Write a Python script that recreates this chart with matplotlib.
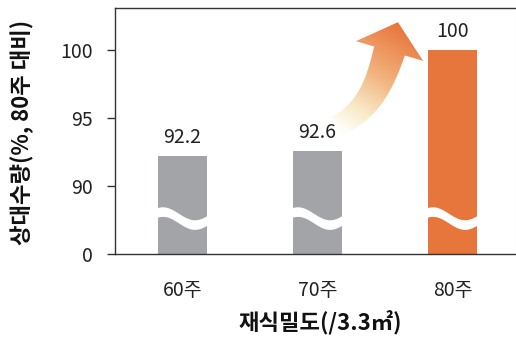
import numpy as np
import matplotlib
matplotlib.use("Agg")
import matplotlib.pyplot as plt
from matplotlib.path import Path
from matplotlib.patches import PathPatch, Polygon
from matplotlib.colors import LinearSegmentedColormap
from matplotlib.transforms import blended_transform_factory

# --- data -------------------------------------------------------------
categories = ["60주", "70주", "80주"]
relative_yield = [92.2, 92.6, 100]
bar_colors = ["#a3a4a7", "#a3a4a7", "#e6763c"]
y_ticks = [0, 90, 95, 100]
y_tick_labels = ["0", "90", "95", "100"]
x_title = "재식밀도(/3.3㎡)"
y_title = "상대수량(%, 80주 대비)"

plt.rcParams['font.family'] = ['Noto Sans CJK KR', 'DejaVu Sans']
TEXT = "#222222"

W, H = 516, 345
fig = plt.figure(figsize=(W / 100, H / 100), dpi=100)
ax = fig.add_axes([115 / W, (H - 254) / H, (W - 115) / W, 246 / H])


# broken axis: 0-90 squeezed into one tick step, 90-100 in 5-unit steps
def fwd(v):
    v = np.asarray(v, dtype=float)
    return np.where(v < 90, v / 90.0, 1.0 + (v - 90.0) / 5.0)


def inv(d):
    d = np.asarray(d, dtype=float)
    return np.where(d < 1, d * 90.0, 90.0 + (d - 1.0) * 5.0)


ax.set_yscale('function', functions=(fwd, inv))

x = np.arange(len(categories))
bar_w = 0.36
ax.bar(x, relative_yield, width=bar_w, color=bar_colors, zorder=2)

ax.set_xlim(-0.5, 2.47)
ax.set_ylim(0, 103.1)
ax.set_yticks(y_ticks, y_tick_labels)
ax.yaxis.set_minor_locator(matplotlib.ticker.NullLocator())
ax.set_xticks(x, categories)

ax.tick_params(axis='y', length=5.8, width=1.0, pad=10, labelsize=14,
               colors=TEXT, color="#333333")
ax.tick_params(axis='x', length=0, pad=19, labelsize=14, colors=TEXT)

for side in ("left", "bottom", "top"):
    ax.spines[side].set_color("#333333")
    ax.spines[side].set_linewidth(1.0)
ax.spines["right"].set_color("#e4e4e4")

# value labels above bars
for xi, v in zip(x, relative_yield):
    ax.annotate(f"{v:g}", (xi, v), xytext=(0, 9.4), textcoords="offset points",
                ha="center", va="baseline", fontsize=14, color=TEXT)

# white wavy break marks across the bars
blend = blended_transform_factory(ax.transData, ax.transAxes)
t = np.linspace(0, 1, 60)
sy_ax = 246.0
centre = 0.146 + (6.5 * np.cos(2 * np.pi * 0.8 * (t - 0.12)) - 0.5) / sy_ax
half = 4.8 / sy_ax
for xi in x:
    xs = xi - bar_w / 2 - 0.01 + t * (bar_w + 0.02)
    pts = np.vstack([np.column_stack([xs, centre + half]),
                     np.column_stack([xs[::-1], (centre - half)[::-1]])])
    ax.add_patch(Polygon(pts, closed=True, transform=blend, facecolor="white",
                         edgecolor="none", zorder=3))

# curved gradient arrow drawn on an overlay in local pixel units
pos = ax.get_position()
sx, sy = pos.width * W, pos.height * H
ov = fig.add_axes(pos, frameon=False)
ov.set_axis_off()
ov.set_xlim(0, sx)
ov.set_ylim(0, sy)

P0 = np.array([222.0, 128.0])
P3 = np.array([274.5, 203.0])
start_dir = np.array([0.9, 0.44])
start_dir /= np.linalg.norm(start_dir)
head_dir = np.array([8.5, 29.0])
head_dir /= np.linalg.norm(head_dir)
C1 = P0 + 35 * start_dir
C2 = P3 - 35 * head_dir
tt = np.linspace(0, 1, 100)[:, None]
B = ((1 - tt) ** 3 * P0 + 3 * (1 - tt) ** 2 * tt * C1
     + 3 * (1 - tt) * tt ** 2 * C2 + tt ** 3 * P3)
dB = (3 * (1 - tt) ** 2 * (C1 - P0) + 6 * (1 - tt) * tt * (C2 - C1)
      + 3 * tt ** 2 * (P3 - C2))
nrm = np.column_stack([-dB[:, 1], dB[:, 0]])
nrm /= np.linalg.norm(nrm, axis=1)[:, None]
hw = 10.5 + 5.5 * tt
left = B + nrm * hw
right = B - nrm * hw
perp = np.array([-head_dir[1], head_dir[0]])
tip = P3 + 30 * head_dir
head = np.array([P3 + perp * 35, tip, P3 - perp * 35])
poly = np.vstack([left, head, right[::-1]])
path = Path(np.vstack([poly, poly[:1]]), closed=True)
patch = PathPatch(path, facecolor="none", edgecolor="none")
ov.add_patch(patch)

cmap = LinearSegmentedColormap.from_list(
    "warm", [(0.0, "#fffdf8"), (0.2, "#f9ebca"), (0.55, "#f2b07a"), (1.0, "#e8733a")])
x0, x1 = poly[:, 0].min() - 2, poly[:, 0].max() + 2
y0, y1 = poly[:, 1].min() - 2, poly[:, 1].max() + 2
gx, gy = np.meshgrid(np.linspace(x0, x1, 200), np.linspace(y0, y1, 200))
axis_vec = tip - P0
proj = ((gx - P0[0]) * axis_vec[0] + (gy - P0[1]) * axis_vec[1]) / np.dot(axis_vec, axis_vec)
img = cmap(np.clip(proj, 0, 1))
im = ov.imshow(img, extent=[x0, x1, y0, y1], origin="lower", aspect="auto",
               interpolation="bilinear", zorder=4)
im.set_clip_path(patch)
ov.set_xlim(0, sx)
ov.set_ylim(0, sy)

# axis titles
fig.text(320 / W, (H - 323) / H, x_title, ha="center", va="center",
         fontsize=16, fontweight="bold", color="#111111")
fig.text(22 / W, (H - 132) / H, y_title, ha="center", va="center", rotation=90,
         fontsize=16, fontweight="bold", color="#111111")

fig.savefig("out.png", dpi=100)
